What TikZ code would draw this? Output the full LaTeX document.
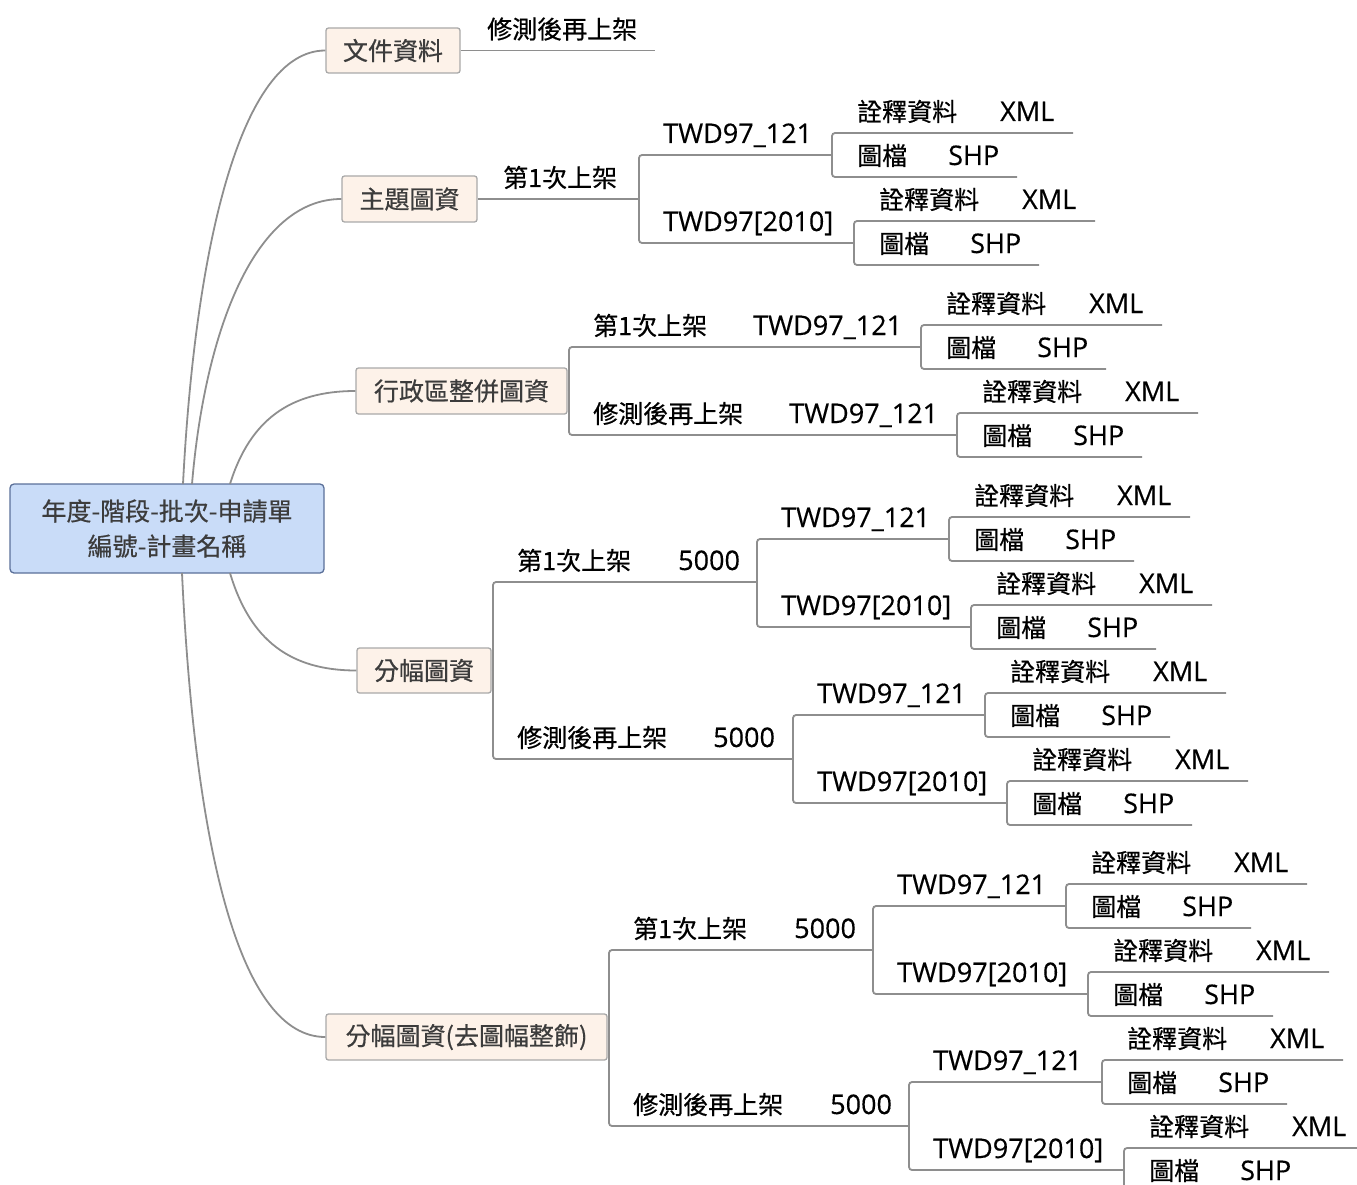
\documentclass[tikz,border=0pt]{standalone}
\usepackage{fontspec}
\setmainfont{Noto Sans CJK TC}
\newfontfamily\cjkf{Noto Sans CJK TC}[FakeBold=0.5]
\newfontfamily\latf{Open Sans}[FakeBold=0.4]
\definecolor{linec}{HTML}{8E8E8E}
\definecolor{boxfill}{HTML}{FDF2E9}
\definecolor{boxdraw}{HTML}{A9A9A9}
\definecolor{rootfill}{HTML}{C9DCF8}
\definecolor{rootdraw}{HTML}{5B7099}
\definecolor{boxtext}{HTML}{3C3C3C}
\tikzset{
  conn/.style={draw=linec, line width=1.8pt, rounded corners=3pt},
  branch/.style={draw=linec, line width=1.8pt},
  lbl/.style={anchor=base west, inner sep=0pt, font=\cjkf\fontsize{25}{30}\selectfont, text=black},
  lat/.style={anchor=base west, inner sep=0pt, font=\latf\fontsize{27}{30}\selectfont, text=black},
  topicbox/.style={draw=boxdraw, fill=boxfill, line width=1.3pt, rounded corners=2.5pt, inner sep=0pt,
    font=\cjkf\fontsize{25}{30}\selectfont, text=boxtext},
  rootbox/.style={draw=rootdraw, fill=rootfill, line width=1.3pt, rounded corners=4pt, inner sep=0pt,
    align=center, font=\cjkf\fontsize{25}{35}\selectfont, text=boxtext}
}
% bracket: name, junction x, y1, end x1, y2, end x2
\newcommand\bracketpair[6]{%
  \coordinate (#1-a) at ({#4},{#3});
  \coordinate (#1-b) at ({#2},{#3});
  \coordinate (#1-c) at ({#2},{#5});
  \coordinate (#1-d) at ({#6},{#5});
  \draw[conn] (#1-a) -- (#1-b) -- (#1-c) -- (#1-d);}
% leaf group: name, junction x, junction y
\newcommand\leafgroup[3]{%
  \node[lbl] (#1-meta) at ({#2+25},{#3-34}) {詮釋資料};
  \node[lat] (#1-xml) at ({#2+168},{#3-34}) {XML};
  \node[lbl] (#1-map) at ({#2+25},{#3+10}) {圖檔};
  \node[lat] (#1-shp) at ({#2+116},{#3+10}) {SHP};
  \bracketpair{#1}{#2}{#3-22}{#2+241}{#3+22}{#2+185}}
\begin{document}
\begin{tikzpicture}[x=1pt,y=-1pt]
\useasboundingbox (0,0) rectangle (1357,1185);
\clip (0,0) rectangle (1357,1185);

% root and first level
\node[rootbox, minimum width=314pt, minimum height=89pt] (root) at (167,528.5) {年度-階段-批次-申請單\\編號-計畫名稱};
\node[topicbox, minimum width=134pt, minimum height=45pt] (doc) at (393,50.5) {文件資料};
\node[topicbox, minimum width=135pt, minimum height=46pt] (theme) at (409.5,199) {主題圖資};
\node[topicbox, minimum width=211pt, minimum height=46pt] (admin) at (461.5,391) {行政區整併圖資};
\node[topicbox, minimum width=134pt, minimum height=45pt] (sheet) at (424,670.5) {分幅圖資};
\node[topicbox, minimum width=281pt, minimum height=46pt] (sheetb) at (466.5,1037) {分幅圖資(去圖幅整飾)};

\coordinate (rs1) at (183,484);
\coordinate (rs2) at (192,484);
\coordinate (rs3) at (230,484);
\coordinate (rs4) at (230,573);
\coordinate (rs5) at (182,573);
\draw[branch] (rs1) .. controls (195,250) and (240,50.5) .. (doc.west);
\draw[branch] (rs2) .. controls (205,330) and (255,199) .. (theme.west);
\draw[branch] (rs3) .. controls (250,420) and (290,391) .. (admin.west);
\draw[branch] (rs4) .. controls (250,640) and (290,670.5) .. (sheet.west);
\draw[branch] (rs5) .. controls (195,850) and (240,1037) .. (sheetb.west);

% 文件資料
\node[lbl] (doc-c) at (487,38.5) {修測後再上架};
\coordinate (doc-e) at (655,50.5);
\draw[branch] (doc.east) -- (doc-e);

% 主題圖資
\coordinate (th-j) at (639,199);
\draw[branch] (theme.east) -- (th-j);
\node[lbl] (th-c) at (503,187) {第1次上架};
\bracketpair{th}{639}{155}{832}{243}{854}
\node[lat] (th-t1) at (663,143) {TWD97\_121};
\node[lat] (th-t2) at (663,231) {TWD97[2010]};
\leafgroup{th1}{832}{155}
\leafgroup{th2}{854}{243}

% 行政區整併圖資
\coordinate (ad-j) at (569,391);
\draw[branch] (admin.east) -- (ad-j);
\bracketpair{ad}{569}{347}{921}{435}{957}
\node[lbl] (ad-c1) at (593,335) {第1次上架};
\node[lat] (ad-t1) at (753,335) {TWD97\_121};
\node[lbl] (ad-c2) at (593,423) {修測後再上架};
\node[lat] (ad-t2) at (789,423) {TWD97\_121};
\leafgroup{ad1}{921}{347}
\leafgroup{ad2}{957}{435}

% 分幅圖資
\coordinate (sh-j) at (493,670.5);
\draw[branch] (sheet.east) -- (sh-j);
\bracketpair{sh}{493}{582}{757}{759}{793}
\node[lbl] (sh-c1) at (517,570) {第1次上架};
\node[lat] (sh-n1) at (678,570) {5000};
\node[lbl] (sh-c2) at (517,747) {修測後再上架};
\node[lat] (sh-n2) at (713,747) {5000};
\bracketpair{sha}{757}{539}{949}{627}{971}
\node[lat] (sha-t1) at (781,527) {TWD97\_121};
\node[lat] (sha-t2) at (781,615) {TWD97[2010]};
\leafgroup{sha1}{949}{539}
\leafgroup{sha2}{971}{627}
\bracketpair{shb}{793}{715}{985}{803}{1007}
\node[lat] (shb-t1) at (817,703) {TWD97\_121};
\node[lat] (shb-t2) at (817,791) {TWD97[2010]};
\leafgroup{shb1}{985}{715}
\leafgroup{shb2}{1007}{803}

% 分幅圖資(去圖幅整飾)
\coordinate (sb-j) at (609,1037);
\draw[branch] (sheetb.east) -- (sb-j);
\bracketpair{sb}{609}{950}{873}{1126}{909}
\node[lbl] (sb-c1) at (633,938) {第1次上架};
\node[lat] (sb-n1) at (794,938) {5000};
\node[lbl] (sb-c2) at (633,1114) {修測後再上架};
\node[lat] (sb-n2) at (830,1114) {5000};
\bracketpair{sba}{873}{906}{1066}{994}{1088}
\node[lat] (sba-t1) at (897,894) {TWD97\_121};
\node[lat] (sba-t2) at (897,982) {TWD97[2010]};
\leafgroup{sba1}{1066}{906}
\leafgroup{sba2}{1088}{994}
\bracketpair{sbb}{909}{1082}{1102}{1170}{1124}
\node[lat] (sbb-t1) at (933,1070) {TWD97\_121};
\node[lat] (sbb-t2) at (933,1158) {TWD97[2010]};
\leafgroup{sbb1}{1102}{1082}
\leafgroup{sbb2}{1124}{1170}
\end{tikzpicture}
\end{document}
